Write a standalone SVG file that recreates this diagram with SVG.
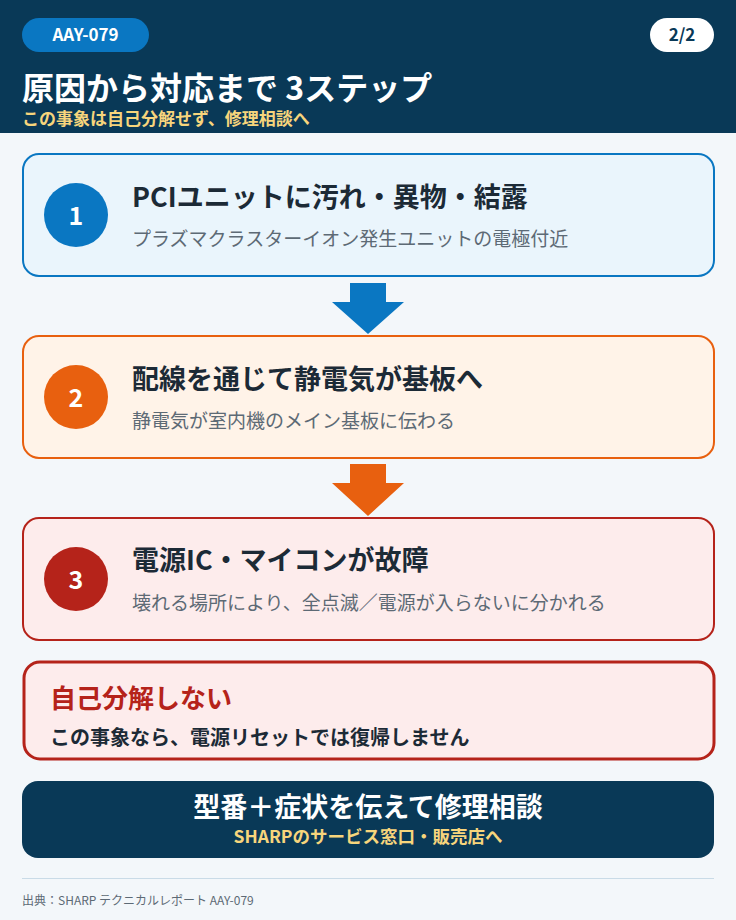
<svg xmlns="http://www.w3.org/2000/svg" width="736" height="920" viewBox="0 0 736 920">
<style>
text{font-family:"Noto Sans CJK JP","Noto Sans",sans-serif}
.b{font-weight:700}
.ttl{font-size:27px;font-weight:700;fill:#1c2a36}
.sub{font-size:19px;fill:#5d6a75}
.num{font-size:25px;font-weight:700;fill:#fff;text-anchor:middle}
.card{stroke-width:2}
</style>
<rect x="0" y="0" width="736" height="920" fill="#f3f7fa"/>
<g id="header">
<rect x="0" y="0" width="736" height="133" fill="#093957"/>
<rect x="22" y="18" width="127" height="34" rx="17" fill="#0a77c2"/>
<text x="85.5" y="41" class="b" font-size="17" fill="#fff" text-anchor="middle">AAY-079</text>
<rect x="650" y="18" width="64" height="34" rx="17" fill="#fff"/>
<text x="682" y="41" class="b" font-size="17" fill="#093957" text-anchor="middle">2/2</text>
<text x="22" y="100" class="b" font-size="32" fill="#fff">原因から対応まで 3ステップ</text>
<text x="22" y="125" class="b" font-size="17" fill="#f7d57c">この事象は自己分解せず、修理相談へ</text>
</g>
<g id="step1">
<rect x="23" y="154" width="691" height="122" rx="16" fill="#eaf5fc" stroke="#0a77c2" class="card"/>
<circle cx="76" cy="215" r="32" fill="#0a77c2"/>
<text x="76" y="225" class="num">1</text>
<text x="132" y="207" class="ttl">PCIユニットに汚れ・異物・結露</text>
<text x="132" y="246" class="sub">プラズマクラスターイオン発生ユニットの電極付近</text>
</g>
<g id="step2">
<rect x="23" y="336" width="691" height="122" rx="16" fill="#fff3e8" stroke="#e8600f" class="card"/>
<circle cx="76" cy="397" r="32" fill="#e8600f"/>
<text x="76" y="407" class="num">2</text>
<text x="132" y="389" class="ttl">配線を通じて静電気が基板へ</text>
<text x="132" y="428" class="sub">静電気が室内機のメイン基板に伝わる</text>
</g>
<g id="step3">
<rect x="23" y="518" width="691" height="122" rx="16" fill="#fdecec" stroke="#b5231a" class="card"/>
<circle cx="76" cy="579" r="32" fill="#b5231a"/>
<text x="76" y="589" class="num">3</text>
<text x="132" y="570" class="ttl">電源IC・マイコンが故障</text>
<text x="132" y="610" class="sub">壊れる場所により、全点滅／電源が入らないに分かれる</text>
</g>
<g id="connectors">
<polygon points="350,283 386,283 386,302 404,302 368,334 332,302 350,302" fill="#0a77c2"/>
<polygon points="350,464 386,464 386,483 404,483 368,516 332,483 350,483" fill="#e8600f"/>
</g>
<g id="warning">
<rect x="24" y="662" width="690" height="97" rx="16" fill="#fdecec" stroke="#b5231a" stroke-width="3"/>
<text x="50" y="708" class="b" font-size="26" fill="#b5231a">自己分解しない</text>
<text x="50" y="745" class="b" font-size="20" fill="#1c2a36">この事象なら、電源リセットでは復帰しません</text>
</g>
<g id="cta">
<rect x="22" y="781" width="692" height="77" rx="16" fill="#093957"/>
<text x="368" y="817" class="b" font-size="27" fill="#fff" text-anchor="middle">型番＋症状を伝えて修理相談</text>
<text x="368" y="843" class="b" font-size="17.5" fill="#f7d57c" text-anchor="middle">SHARPのサービス窓口・販売店へ</text>
</g>
<g id="footer">
<line x1="22" y1="878.5" x2="714" y2="878.5" stroke="#c9dbe7" stroke-width="1"/>
<text x="22" y="905" font-size="12" fill="#5d6a75">出典：SHARP テクニカルレポート AAY-079</text>
</g>
</svg>
